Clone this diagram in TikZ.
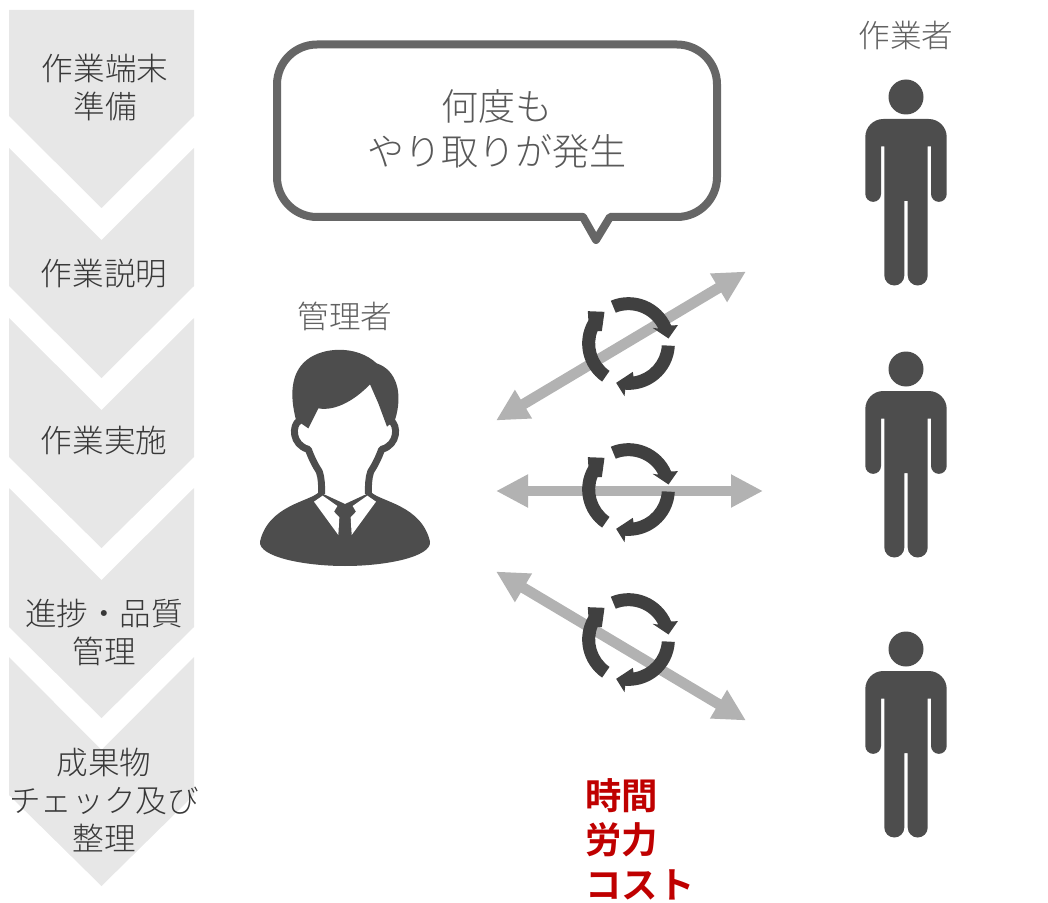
\documentclass[tikz,border=0pt]{standalone}
\usepackage{fontspec}
\usetikzlibrary{arrows.meta}
\newfontfamily\cjk[UprightFont={* Light},BoldFont={* Bold}]{Noto Sans CJK JP}
\definecolor{chevrongray}{rgb}{0.906,0.906,0.906}
\definecolor{icongray}{rgb}{0.302,0.302,0.302}
\definecolor{cyclegray}{rgb}{0.25,0.25,0.25}
\definecolor{linkgray}{rgb}{0.70,0.70,0.70}
\definecolor{bubblegray}{rgb}{0.40,0.40,0.40}
\definecolor{costred}{rgb}{0.75,0,0}
\tikzset{
  chevron/.style={fill=chevrongray,draw=none},
  steplabel/.style={inner sep=0pt,align=center,text=black!78,font=\cjk\fontsize{23.7}{28.5}\selectfont},
  rolelabel/.style={inner sep=0pt,text=black!62,font=\cjk\fontsize{23.7}{28.5}\selectfont},
  bubbletext/.style={inner sep=0pt,align=center,text=black!65,font=\cjk\fontsize{27.8}{33.75}\selectfont},
  costtext/.style={inner sep=0pt,align=left,text=costred,font=\cjk\bfseries\fontsize{27.3}{33.5}\selectfont},
  exchange/.style={draw=linkgray,line width=8pt,{Triangle[length=24pt,width=23.25pt]}-{Triangle[length=24pt,width=23.25pt]}},
  pics/workerfig/.style={code={
    \begin{scope}[yscale=-1]
    \fill[icongray] (0,0) circle (17.5);
    \fill[icongray] (-40.7,40) arc[start angle=180,end angle=270,radius=18] -- (22.7,22)
      arc[start angle=270,end angle=360,radius=18] -- (40.7,97)
      arc[start angle=0,end angle=180,radius=7.85] -- (25,49.5) -- (21.7,49.5) -- (21.7,178.5)
      arc[start angle=0,end angle=180,radius=10] -- (1.7,104) -- (-1.7,104) -- (-1.7,178.5)
      arc[start angle=0,end angle=180,radius=10] -- (-21.7,49.5) -- (-25,49.5) -- (-25,97)
      arc[start angle=0,end angle=180,radius=7.85] -- cycle;
    \end{scope}
  }},
  pics/cyclemark/.style={code={
    \begin{scope}[scale=1/3,yscale=-1]
    \fill[cyclegray] (-112.5:139) arc[start angle=-112.5,end angle=-23,radius=139]
      -- (148,-55) -- (120,-15) -- (72,-47) -- (-26.6:100)
      arc[start angle=-26.6,end angle=-112.5,radius=100] -- cycle;
    \fill[cyclegray] (3:139) arc[start angle=3,end angle=94,radius=139]
      -- (-12,158) -- (-37,118) -- (13,85) -- (81.4:100)
      arc[start angle=81.4,end angle=3,radius=100] -- cycle;
    \fill[cyclegray] (124.7:139) arc[start angle=124.7,end angle=210,radius=139]
      -- (-122,-97) -- (-72,-95) -- (-80,-37) -- (202:100)
      arc[start angle=202,end angle=124.7,radius=100] -- cycle;
    \end{scope}
  }}
}

\begin{document}
\begin{tikzpicture}[x=0.75pt,y=0.75pt,yscale=-1,xscale=1]
\useasboundingbox (0,0) rectangle (1048,902);

% Chevrons
\fill[chevron] (9,10) -- (194,10) -- (194,116) -- (101.5,208) -- (9,116) -- cycle;
\fill[chevron] (9,148) -- (101.5,240) -- (194,148) -- (194,286) -- (101.5,378) -- (9,286) -- cycle;
\fill[chevron] (9,318) -- (101.5,410) -- (194,318) -- (194,457) -- (101.5,548) -- (9,457) -- cycle;
\fill[chevron] (9,488) -- (101.5,580) -- (194,488) -- (194,627) -- (101.5,718) -- (9,627) -- cycle;
\fill[chevron] (9,657) -- (101.5,750) -- (194,657) -- (194,795) -- (101.5,886) -- (9,795) -- cycle;

% Step labels
\node[steplabel] (stepprep) at (105,88) {作業端末\\準備};
\node[steplabel] (stepbrief) at (104,274) {作業説明};
\node[steplabel] (stepwork) at (104,441) {作業実施};
\node[steplabel] (stepqual) at (104,632) {進捗・品質\\管理};
\node[steplabel] (stepcheck) at (104,800) {成果物\\チェック及び\\整理};

% Speech bubble
\draw[bubblegray,line width=6pt,line join=round,fill=white] (317,44.5) -- (677,44.5)
  arc[start angle=270,end angle=360,radius=40] -- (717,177)
  arc[start angle=0,end angle=90,radius=40] -- (610,217) -- (596,240) -- (583,217) -- (317,217)
  arc[start angle=90,end angle=180,radius=40] -- (277,84.5)
  arc[start angle=180,end angle=270,radius=40] -- cycle;
\node[bubbletext] (bubblemsg) at (497,129) {何度も\\やり取りが発生};

% Role labels
\node[rolelabel] (managerlabel) at (345,316) {管理者};
\node[rolelabel] (workerlabel) at (906,35) {作業者};

% Manager icon
\begin{scope}[shift={(240,290)},scale=1/3]
\fill[icongray] (168,390) .. controls (150,320) and (150,250) .. (200,210)
  .. controls (250,170) and (350,165) .. (410,220)
  .. controls (470,240) and (490,310) .. (465,390)
  -- (441,410) -- (415,340) -- (390,283)
  .. controls (350,325) and (290,365) .. (235,355)
  -- (205,415) -- cycle;
\draw[icongray,line width=5.2pt,line join=round] (178,392)
  .. controls (155,405) and (155,465) .. (205,478)
  .. controls (215,505) and (225,525) .. (238,545)
  .. controls (245,565) and (245,590) .. (245,612);
\draw[icongray,line width=5.2pt,line join=round] (452,392)
  .. controls (475,405) and (475,465) .. (425,478)
  .. controls (415,505) and (405,525) .. (392,545)
  .. controls (385,565) and (385,590) .. (385,612);
\fill[icongray] (237,606) -- (315,642) -- (393,606)
  .. controls (420,635) and (545,645) .. (570,755)
  .. controls (575,800) and (440,828) .. (315,828)
  .. controls (190,828) and (55,800) .. (60,755)
  .. controls (85,645) and (210,635) .. (237,606) -- cycle;
\fill[white] (222,635) -- (248,617) -- (292,648) -- (282,665) -- (298,682) -- (295,735) -- cycle;
\fill[white] (408,635) -- (382,617) -- (338,648) -- (348,665) -- (332,682) -- (335,735) -- cycle;
\end{scope}

% Worker icons
\pic at (906,97) {workerfig};
\pic at (906,369) {workerfig};
\pic at (906,649) {workerfig};

% Exchange arrows
\coordinate (managertop) at (496,420.5);
\coordinate (workertop) at (746,271.5);
\coordinate (managermid) at (496,491);
\coordinate (workermid) at (763,491);
\coordinate (managerlow) at (496,571.5);
\coordinate (workerlow) at (746,720.5);
\draw[exchange] (managertop) -- (workertop);
\draw[exchange] (managermid) -- (workermid);
\draw[exchange] (managerlow) -- (workerlow);

% Cycle marks
\pic at (628.5,343.5) {cyclemark};
\pic at (628.5,489.5) {cyclemark};
\pic at (628.5,639.5) {cyclemark};

% Cost text
\node[costtext,anchor=north west] (costnote) at (585,778) {時間\\労力\\コスト};

\end{tikzpicture}
\end{document}
